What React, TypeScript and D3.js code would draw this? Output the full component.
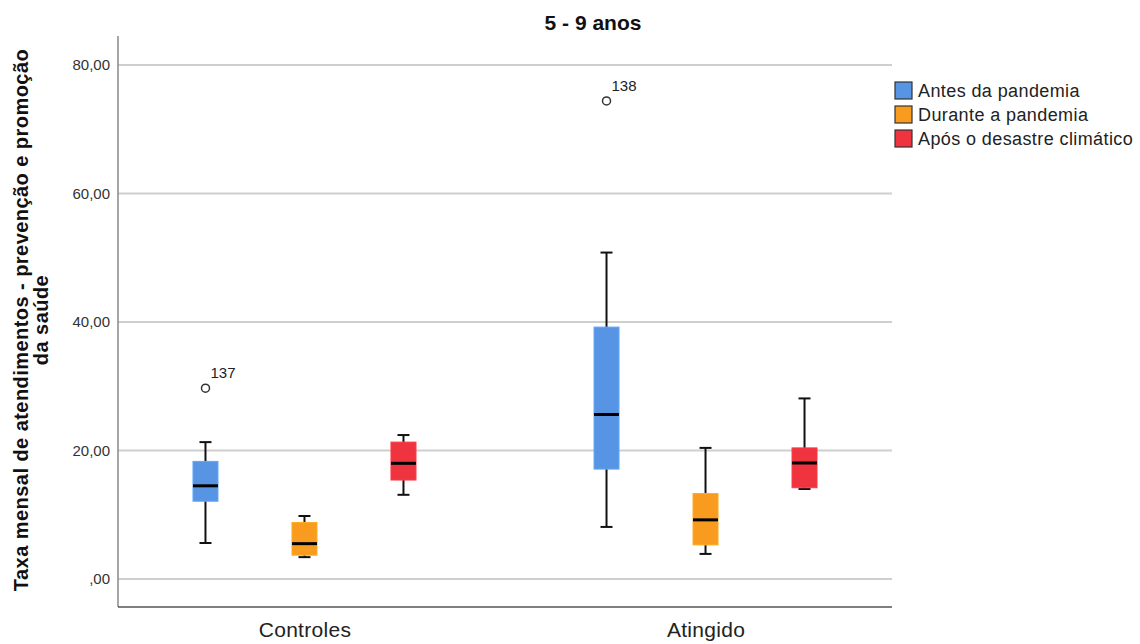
import * as d3 from "d3";
import React, { useEffect, useRef } from "react";

// data
const groups = ["Controles", "Atingido"];
const periods = ["Antes da pandemia", "Durante a pandemia", "Após o desastre climático"];
const colors = ["#5795e4", "#f99b1e", "#ef333f"];
// [whisker low, q1, median, q3, whisker high] per group, per period
const controlesStats = [
  [5.6, 12.1, 14.5, 18.3, 21.3],
  [3.4, 3.7, 5.5, 8.8, 9.8],
  [13.1, 15.4, 18.0, 21.3, 22.4],
];
const atingidoStats = [
  [8.1, 17.1, 25.6, 39.2, 50.8],
  [3.9, 5.3, 9.2, 13.3, 20.4],
  [14.0, 14.2, 18.05, 20.4, 28.1],
];
// outliers: group, period, value, case label
const outliers = [
  { group: "Controles", period: 0, value: 29.7, label: "137" },
  { group: "Atingido", period: 0, value: 74.4, label: "138" },
];
const yTicks = [0, 20, 40, 60, 80];

const fmt = (v: number) => (v === 0 ? ",00" : v.toFixed(2).replace(".", ","));

export default function App() {
  const ref = useRef<SVGSVGElement>(null);

  useEffect(() => {
    const svg = d3.select(ref.current);
    svg.selectAll("*").remove();

    const left = 118, right = 892, top = 36, bottom = 607;
    const font = "Arial, 'Liberation Sans', sans-serif";

    const y = d3.scaleLinear().domain([-4.36, 84.5]).range([bottom, top]);
    const x = d3.scalePoint().domain(groups).range([left, right]).padding(0.465);
    const inner = d3.scalePoint().domain(["0", "1", "2"]).range([-99, 99]);
    const boxW = 25, capW = 12;

    // title
    svg.append("text")
      .attr("x", 593).attr("y", 30)
      .attr("text-anchor", "middle")
      .attr("font-family", font).attr("font-weight", "bold").attr("font-size", 21)
      .attr("fill", "#111")
      .text("5 - 9 anos");

    // grid
    svg.append("g").selectAll("line").data(yTicks).enter().append("line")
      .attr("x1", left).attr("x2", right)
      .attr("y1", (d) => y(d)).attr("y2", (d) => y(d))
      .attr("stroke", "#cfcfcf").attr("stroke-width", 2);

    // y axis
    const yAxis = d3.axisLeft(y).tickValues(yTicks).tickSize(0).tickPadding(8).tickFormat((d) => fmt(+d));
    const ga = svg.append("g").attr("transform", `translate(${left},0)`).call(yAxis);
    ga.select(".domain").remove();
    ga.selectAll("text").attr("font-family", font).attr("font-size", 15).attr("fill", "#333");
    svg.append("line").attr("x1", left).attr("x2", left).attr("y1", top).attr("y2", bottom)
      .attr("stroke", "#888").attr("stroke-width", 1.5);

    // x axis
    svg.append("line").attr("x1", left).attr("x2", right).attr("y1", bottom).attr("y2", bottom)
      .attr("stroke", "#555").attr("stroke-width", 1.5);
    const xAxis = d3.axisBottom(x).tickSize(0).tickPadding(15);
    const gx = svg.append("g").attr("transform", `translate(0,${bottom})`).call(xAxis);
    gx.select(".domain").remove();
    gx.selectAll("text").attr("font-family", font).attr("font-size", 21).attr("letter-spacing", 0.3).attr("fill", "#222");

    // y label
    const yl = svg.append("text")
      .attr("transform", `translate(0,320) rotate(-90)`)
      .attr("text-anchor", "middle")
      .attr("font-family", font).attr("font-weight", "bold").attr("font-size", 20)
      .attr("letter-spacing", 0.45)
      .attr("fill", "#111");
    yl.append("tspan").attr("x", 0).attr("y", 28).text("Taxa mensal de atendimentos - prevenção e promoção");
    yl.append("tspan").attr("x", 0).attr("y", 48).text("da saúde");

    // boxes
    const all = [controlesStats, atingidoStats];
    groups.forEach((g, gi) => {
      all[gi].forEach((s, pi) => {
        const cx = (x(g) as number) + (inner(String(pi)) as number);
        const [lo, q1, med, q3, hi] = s;
        const gb = svg.append("g");
        gb.append("line").attr("x1", cx).attr("x2", cx).attr("y1", y(hi)).attr("y2", y(lo))
          .attr("stroke", "#111").attr("stroke-width", 2);
        [lo, hi].forEach((w) => {
          gb.append("line").attr("x1", cx - capW / 2).attr("x2", cx + capW / 2)
            .attr("y1", y(w)).attr("y2", y(w)).attr("stroke", "#111").attr("stroke-width", 2);
        });
        gb.append("rect").attr("x", cx - boxW / 2).attr("width", boxW)
          .attr("y", y(q3)).attr("height", y(q1) - y(q3))
          .attr("fill", colors[pi]).attr("stroke", d3.color(colors[pi])!.brighter(0.3).toString()).attr("stroke-width", 1);
        gb.append("line").attr("x1", cx - boxW / 2).attr("x2", cx + boxW / 2)
          .attr("y1", y(med)).attr("y2", y(med)).attr("stroke", "#000").attr("stroke-width", 3);
      });
    });

    // outliers
    outliers.forEach((o) => {
      const cx = (x(o.group) as number) + (inner(String(o.period)) as number);
      svg.append("circle").attr("cx", cx).attr("cy", y(o.value)).attr("r", 4)
        .attr("fill", "#fff").attr("stroke", "#333").attr("stroke-width", 1.5);
      svg.append("text").attr("x", cx + 5).attr("y", y(o.value) - 10)
        .attr("font-family", font).attr("font-size", 15).attr("fill", "#222").text(o.label);
    });

    // legend
    const lg = svg.append("g").attr("transform", "translate(895,82)");
    periods.forEach((p, i) => {
      lg.append("rect").attr("x", 0).attr("y", i * 24).attr("width", 17).attr("height", 17)
        .attr("fill", colors[i]).attr("stroke", "#333").attr("stroke-width", 1.2);
      lg.append("text").attr("x", 23).attr("y", i * 24 + 15)
        .attr("font-family", font).attr("font-size", 18).attr("letter-spacing", 0.4).attr("fill", "#222").text(p);
    });
  }, []);

  return (
    <div>
      <svg ref={ref} width={1140} height={644} style={{ display: "block", position: "absolute", left: 0, top: 0, background: "#fff" }} />
    </div>
  );
}
